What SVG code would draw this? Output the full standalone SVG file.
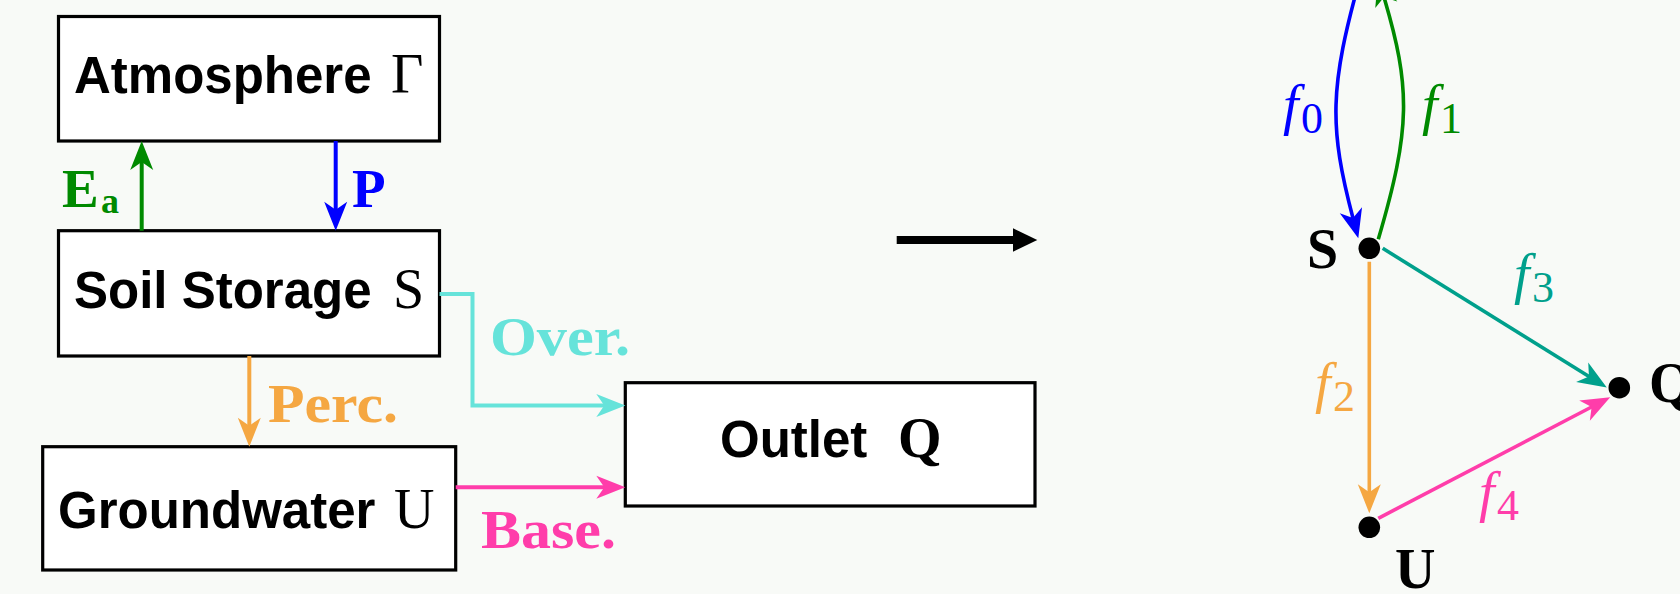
<svg xmlns="http://www.w3.org/2000/svg" width="1680" height="594" viewBox="0 0 1680 594">
  <style>
    .box { fill: #ffffff; stroke: #000000; stroke-width: 3.2; }
    .title { font-family: "Liberation Sans", Arial, sans-serif; font-weight: bold; font-size: 51px; fill: #000; }
    .math { font-family: "Liberation Serif", "Times New Roman", serif; font-size: 56px; fill: #000; }
    .lbl { font-family: "Liberation Serif", "Times New Roman", serif; font-weight: bold; font-size: 55px; }
    .fn { font-family: "Liberation Serif", "Times New Roman", serif; font-style: italic; font-size: 56px; }
    .sub { font-family: "Liberation Serif", "Times New Roman", serif; font-style: normal; font-size: 44px; }
    .pt { font-family: "Liberation Serif", "Times New Roman", serif; font-weight: bold; font-size: 56px; fill: #000; }
    .flow { fill: none; stroke-width: 4; stroke-linecap: butt; }
    .edge { fill: none; stroke-width: 3.6; stroke-linecap: butt; }
    .dot { fill: #000; }
  </style>
  <defs>
    <!-- stealth-style heads; the tip sits 20 units past the path end -->
    <marker id="hGreen" markerUnits="userSpaceOnUse" orient="auto" refX="0" refY="0" markerWidth="40" markerHeight="30" overflow="visible">
      <path d="M20,0 L-9,-11.5 L-1,0 L-9,11.5 Z" fill="#008A00"/>
    </marker>
    <marker id="hBlue" markerUnits="userSpaceOnUse" orient="auto" refX="0" refY="0" markerWidth="40" markerHeight="30" overflow="visible">
      <path d="M20,0 L-9,-11.5 L-1,0 L-9,11.5 Z" fill="#0000FF"/>
    </marker>
    <marker id="hOrange" markerUnits="userSpaceOnUse" orient="auto" refX="0" refY="0" markerWidth="40" markerHeight="30" overflow="visible">
      <path d="M20,0 L-9,-11.5 L-1,0 L-9,11.5 Z" fill="#F5A742"/>
    </marker>
    <marker id="hCyan" markerUnits="userSpaceOnUse" orient="auto" refX="0" refY="0" markerWidth="40" markerHeight="30" overflow="visible">
      <path d="M20,0 L-9,-11.5 L-1,0 L-9,11.5 Z" fill="#66E3DA"/>
    </marker>
    <marker id="hPink" markerUnits="userSpaceOnUse" orient="auto" refX="0" refY="0" markerWidth="40" markerHeight="30" overflow="visible">
      <path d="M20,0 L-9,-11.5 L-1,0 L-9,11.5 Z" fill="#FF3DAA"/>
    </marker>
    <marker id="hTeal" markerUnits="userSpaceOnUse" orient="auto" refX="0" refY="0" markerWidth="40" markerHeight="30" overflow="visible">
      <path d="M20,0 L-9,-11.5 L-1,0 L-9,11.5 Z" fill="#00A08C"/>
    </marker>
    <marker id="hBig" markerUnits="userSpaceOnUse" orient="auto" refX="0" refY="0" markerWidth="40" markerHeight="30" overflow="visible">
      <path d="M-1,-11.7 L23.3,0 L-1,11.7 Z" fill="#000"/>
    </marker>
  </defs>

  <rect x="0" y="0" width="1680" height="594" fill="#F8FAF7"/>

  <!-- bucket model: boxes -->
  <g id="atmosphere">
    <rect class="box" x="58.5" y="16.5" width="381" height="124.5"/>
    <text class="title" x="74" y="93.3">Atmosphere</text>
    <text class="math" x="391" y="93.3">Γ</text>
  </g>
  <g id="soil">
    <rect class="box" x="58.5" y="230.7" width="381" height="125.3"/>
    <text class="title" x="74" y="308">Soil Storage</text>
    <text class="math" x="393" y="308">S</text>
  </g>
  <g id="groundwater">
    <rect class="box" x="42.7" y="446.7" width="413" height="123.3"/>
    <text class="title" x="58" y="527.7">Groundwater</text>
    <text class="math" x="394" y="527.7">U</text>
  </g>
  <g id="outlet">
    <rect class="box" x="625.3" y="382.7" width="409.7" height="123.3"/>
    <text class="title" x="720" y="456.7">Outlet</text>
    <text class="pt" x="898" y="456.7">Q</text>
  </g>

  <!-- graph: nodes -->
  <g id="nodeS">
    <circle class="dot" cx="1369.3" cy="248.3" r="10.8"/>
    <text class="pt" x="1307" y="268.3">S</text>
  </g>
  <g id="nodeQ">
    <circle class="dot" cx="1619.3" cy="387.7" r="10.8"/>
    <text class="pt" x="1649" y="401.5">Q</text>
  </g>
  <g id="nodeU">
    <circle class="dot" cx="1369.3" cy="527.3" r="10.8"/>
    <text class="pt" x="1395" y="587.5">U</text>
  </g>

  <g id="connectors">
    <!-- fluxes between boxes -->
    <line class="flow" x1="141.7" y1="230.7" x2="141.7" y2="161" stroke="#008A00" marker-end="url(#hGreen)"/>
    <text class="lbl" x="62" y="207" fill="#008A00">E<tspan x="101" y="213.3" font-size="36">a</tspan></text>

    <line class="flow" x1="335.7" y1="141" x2="335.7" y2="210.7" stroke="#0000FF" marker-end="url(#hBlue)"/>
    <text class="lbl" x="352" y="207" fill="#0000FF">P</text>

    <line class="flow" x1="249.3" y1="356" x2="249.3" y2="426.7" stroke="#F5A742" marker-end="url(#hOrange)"/>
    <text class="lbl" x="268" y="421.7" fill="#F5A742" textLength="130" lengthAdjust="spacingAndGlyphs">Perc.</text>

    <path class="flow" d="M439.5,294 H472.5 V405.5 H605.3" stroke="#66E3DA" marker-end="url(#hCyan)"/>
    <text class="lbl" x="490" y="355" fill="#66E3DA" textLength="140" lengthAdjust="spacingAndGlyphs">Over.</text>

    <line class="flow" x1="455.7" y1="487.3" x2="605.3" y2="487.3" stroke="#FF3DAA" marker-end="url(#hPink)"/>
    <text class="lbl" x="481" y="548" fill="#FF3DAA" textLength="135" lengthAdjust="spacingAndGlyphs">Base.</text>

    <!-- mapping arrow -->
    <line x1="896.7" y1="240" x2="1014" y2="240" stroke="#000" stroke-width="8" marker-end="url(#hBig)"/>

    <!-- graph edges -->
    <path class="edge" d="M1361,-25 C1329,88 1329,127 1353.2,219" stroke="#0000FF" marker-end="url(#hBlue)"/>
    <text class="fn" x="1283" y="124" fill="#0000FF">f<tspan class="sub" x="1301" y="133.3">0</tspan></text>

    <path class="edge" d="M1378.3,239.3 C1411,128 1411,88 1383.7,-3.8" stroke="#008A00" marker-end="url(#hGreen)"/>
    <text class="fn" x="1422" y="124" fill="#008A00">f<tspan class="sub" x="1440" y="132.7">1</tspan></text>

    <line class="edge" x1="1369.3" y1="261.7" x2="1369.3" y2="493.3" stroke="#F5A742" marker-end="url(#hOrange)"/>
    <text class="fn" x="1315" y="402" fill="#F5A742">f<tspan class="sub" x="1333" y="410.7">2</tspan></text>

    <line class="edge" x1="1382.7" y1="248.3" x2="1589.8" y2="377" stroke="#00A08C" marker-end="url(#hTeal)"/>
    <text class="fn" x="1514" y="293" fill="#00A08C">f<tspan class="sub" x="1532" y="301.7">3</tspan></text>

    <line class="edge" x1="1378.3" y1="518.3" x2="1592.5" y2="406.5" stroke="#FF3DAA" marker-end="url(#hPink)"/>
    <text class="fn" x="1479" y="511" fill="#FF3DAA">f<tspan class="sub" x="1497" y="520">4</tspan></text>
  </g>
</svg>
